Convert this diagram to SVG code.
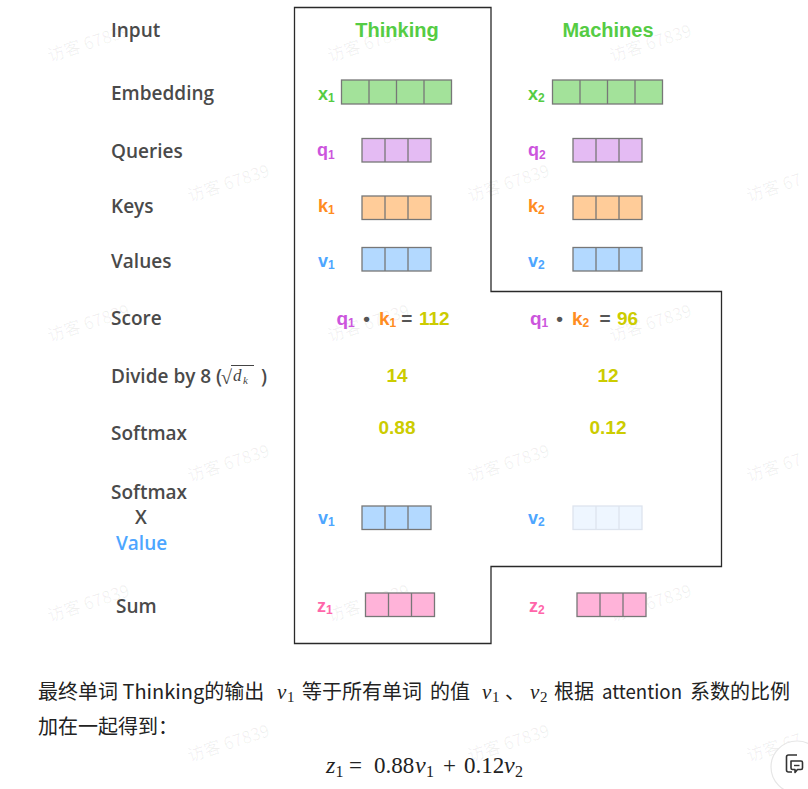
<svg xmlns="http://www.w3.org/2000/svg" width="808" height="789" viewBox="0 0 808 789">
<style>
.lbl{font-family:"Open Sans","Liberation Sans",sans-serif;font-size:19px;font-weight:600;fill:#4a4a4a}
.ttl{font-family:"Liberation Sans",Arial,sans-serif;font-size:20px;font-weight:bold;fill:#55cc44;text-anchor:middle}
.vl{font-family:"Liberation Sans",Arial,sans-serif;font-size:18px;font-weight:bold}
.sub{font-size:12px}
.num{font-family:"Liberation Sans",Arial,sans-serif;font-size:19px;font-weight:bold;fill:#cccc00}
.op{font-family:"Liberation Sans",Arial,sans-serif;font-size:19px;font-weight:bold;fill:#555;text-anchor:middle}
.box{stroke:#777;stroke-width:1.3}
.g{fill:#a3e29a}.p{fill:#e4bbf3}.o{fill:#ffcc99}.b{fill:#b3d9ff}.pk{fill:#ffb3d9}
.lb{fill:#eef6ff;stroke:#dde4ee}
.cg{fill:#55cc44}.cp{fill:#cc55dd}.co{fill:#ff8c22}.cb{fill:#4da6ff}.cz{fill:#ff66aa}
.cn{font-family:"Noto Sans CJK SC","Noto Sans",sans-serif;font-size:20px;fill:#222}
.m{font-family:"Liberation Serif","DejaVu Serif",serif;fill:#222}
.wm{font-family:"Noto Sans CJK SC","Noto Sans",sans-serif;font-size:17px;fill:#000;fill-opacity:0.06}
</style>
<defs>
<g id="v4"><rect x="0" y="0" width="110" height="24" class="box"/><path d="M27.5 0V24M55 0V24M82.5 0V24" class="box" fill="none"/></g>
<g id="v3"><rect x="0" y="0" width="69" height="23.5" class="box"/><path d="M23 0V23.5M46 0V23.5" class="box" fill="none"/></g>
<g id="v3l"><rect x="0" y="0" width="69" height="23.5" class="lb" stroke-width="1.3"/><path d="M23 0V23.5M46 0V23.5" stroke="#dde4ee" stroke-width="1.3" fill="none"/></g>
</defs>
<rect width="808" height="789" fill="#fff"/>

<g id="watermarks">
<text class="wm" x="50" y="62" transform="rotate(-18 50 62)">访客 67839</text>
<text class="wm" x="330" y="62" transform="rotate(-18 330 62)">访客 67839</text>
<text class="wm" x="612" y="62" transform="rotate(-18 612 62)">访客 67839</text>
<text class="wm" x="190" y="202" transform="rotate(-18 190 202)">访客 67839</text>
<text class="wm" x="470" y="202" transform="rotate(-18 470 202)">访客 67839</text>
<text class="wm" x="749" y="202" transform="rotate(-18 749 202)">访客 67</text>
<text class="wm" x="50" y="342" transform="rotate(-18 50 342)">访客 67839</text>
<text class="wm" x="330" y="342" transform="rotate(-18 330 342)">访客 67839</text>
<text class="wm" x="612" y="342" transform="rotate(-18 612 342)">访客 67839</text>
<text class="wm" x="190" y="482" transform="rotate(-18 190 482)">访客 67839</text>
<text class="wm" x="470" y="482" transform="rotate(-18 470 482)">访客 67839</text>
<text class="wm" x="749" y="482" transform="rotate(-18 749 482)">访客 67</text>
<text class="wm" x="50" y="622" transform="rotate(-18 50 622)">访客 67839</text>
<text class="wm" x="330" y="622" transform="rotate(-18 330 622)">访客 67839</text>
<text class="wm" x="612" y="622" transform="rotate(-18 612 622)">访客 67839</text>
<text class="wm" x="190" y="762" transform="rotate(-18 190 762)">访客 67839</text>
<text class="wm" x="470" y="762" transform="rotate(-18 470 762)">访客 67839</text>
<text class="wm" x="749" y="762" transform="rotate(-18 749 762)">访客 67</text>
</g>

<g id="connectors">
<path id="outline" d="M294.5 7.5H491V291.5H721.5V566.5H491V643.5H294.5Z" fill="none" stroke="#2a2a2a" stroke-width="1.3"/>
</g>

<g id="row-labels">
<text class="lbl" x="111" y="37">Input</text>
<text class="lbl" x="111" y="100">Embedding</text>
<text class="lbl" x="111" y="158">Queries</text>
<text class="lbl" x="111" y="213">Keys</text>
<text class="lbl" x="111" y="268">Values</text>
<text class="lbl" x="111" y="325">Score</text>
<g id="divide">
<text class="lbl" x="111" y="383">Divide by 8 (</text>
<text x="221" y="384" font-family="Liberation Serif,serif" font-size="20" fill="#444">√</text>
<line x1="231" y1="365.5" x2="254" y2="365.5" stroke="#444" stroke-width="1"/>
<text x="233" y="381" font-family="Liberation Serif,serif" font-style="italic" font-size="17" fill="#444">d</text>
<text x="243" y="384" font-family="Liberation Serif,serif" font-style="italic" font-size="11" fill="#444">k</text>
<text class="lbl" x="261" y="383">)</text>
</g>
<text class="lbl" x="111" y="440">Softmax</text>
<text class="lbl" x="111" y="499">Softmax</text>
<text class="lbl" x="135" y="524">X</text>
<text class="lbl" x="116" y="550" style="fill:#4da6ff">Value</text>
<text class="lbl" x="116" y="613">Sum</text>
</g>

<g id="title-thinking"><text class="ttl" x="397" y="37">Thinking</text></g>
<g id="title-machines"><text class="ttl" x="608" y="37">Machines</text></g>

<g id="x1"><text class="vl cg" x="318" y="100">x<tspan class="sub" dy="2">1</tspan></text><use href="#v4" class="g" x="341.5" y="80"/></g>
<g id="x2"><text class="vl cg" x="528" y="100">x<tspan class="sub" dy="2">2</tspan></text><use href="#v4" class="g" x="552.5" y="80"/></g>
<g id="q1"><text class="vl cp" x="317" y="156">q<tspan class="sub" dy="3">1</tspan></text><use href="#v3" class="p" x="362" y="138.5"/></g>
<g id="q2"><text class="vl cp" x="528" y="156">q<tspan class="sub" dy="3">2</tspan></text><use href="#v3" class="p" x="573" y="138.5"/></g>
<g id="k1"><text class="vl co" x="318" y="212">k<tspan class="sub" dy="2">1</tspan></text><use href="#v3" class="o" x="362" y="196"/></g>
<g id="k2"><text class="vl co" x="528" y="212">k<tspan class="sub" dy="2">2</tspan></text><use href="#v3" class="o" x="573" y="196"/></g>
<g id="v1"><text class="vl cb" x="318" y="267">v<tspan class="sub" dy="2">1</tspan></text><use href="#v3" class="b" x="362" y="247.5"/></g>
<g id="v2"><text class="vl cb" x="528" y="267">v<tspan class="sub" dy="2">2</tspan></text><use href="#v3" class="b" x="573" y="247.5"/></g>

<g id="score1">
<text class="vl cp" x="336.5" y="325" style="font-size:19px">q<tspan class="sub" dy="2">1</tspan></text>
<text class="op" x="366.5" y="325">•</text>
<text class="vl co" x="379" y="325" style="font-size:19px">k<tspan class="sub" dy="2">1</tspan></text>
<text class="op" x="406.7" y="325">=</text>
<text class="num" x="419" y="325">112</text>
</g>
<g id="score2">
<text class="vl cp" x="530" y="325" style="font-size:19px">q<tspan class="sub" dy="2">1</tspan></text>
<text class="op" x="559.5" y="325">•</text>
<text class="vl co" x="572" y="325" style="font-size:19px">k<tspan class="sub" dy="2">2</tspan></text>
<text class="op" x="605" y="325">=</text>
<text class="num" x="617" y="325">96</text>
</g>
<g id="div1"><text class="num" x="397" y="382" text-anchor="middle">14</text></g>
<g id="div2"><text class="num" x="608" y="382" text-anchor="middle">12</text></g>
<g id="sm1"><text class="num" x="397" y="434" text-anchor="middle">0.88</text></g>
<g id="sm2"><text class="num" x="608" y="434" text-anchor="middle">0.12</text></g>

<g id="sv1"><text class="vl cb" x="318" y="524">v<tspan class="sub" dy="2">1</tspan></text><use href="#v3" class="b" x="362" y="506"/></g>
<g id="sv2"><text class="vl cb" x="528" y="524">v<tspan class="sub" dy="2">2</tspan></text><use href="#v3l" x="573" y="506"/></g>
<g id="z1"><text class="vl cz" x="317" y="612">z<tspan class="sub" dy="2">1</tspan></text><use href="#v3" class="pk" x="365.5" y="593"/></g>
<g id="z2"><text class="vl cz" x="529" y="612">z<tspan class="sub" dy="2">2</tspan></text><use href="#v3" class="pk" x="577" y="593"/></g>

<g id="caption">
<text class="cn" x="38" y="699">最终单词 Thinking的输出</text>
<text class="m" x="277" y="699" font-size="21" font-style="italic">v</text><text class="m" x="287" y="702" font-size="15">1</text>
<text class="cn" x="302" y="699">等于所有单词</text>
<text class="cn" x="430" y="699">的值</text>
<text class="m" x="482" y="699" font-size="21" font-style="italic">v</text><text class="m" x="492" y="702" font-size="15">1</text>
<text class="cn" x="505" y="699">、</text>
<text class="m" x="530" y="699" font-size="21" font-style="italic">v</text><text class="m" x="540" y="702" font-size="15">2</text>
<text class="cn" x="554" y="699">根据</text>
<text class="cn" x="602" y="699" textLength="80" lengthAdjust="spacingAndGlyphs">attention</text>
<text class="cn" x="690" y="699">系数的比例</text>
<text class="cn" x="38" y="734">加在一起得到：</text>
</g>

<g id="formula">
<text class="m" x="326" y="773" font-size="24" font-style="italic">z</text>
<text class="m" x="335.5" y="777" font-size="16">1</text>
<text class="m" x="349" y="773" font-size="23">=</text>
<text class="m" x="374" y="773" font-size="23">0.88</text>
<text class="m" x="415" y="773" font-size="24" font-style="italic">v</text>
<text class="m" x="426" y="777" font-size="16">1</text>
<text class="m" x="443" y="773" font-size="23">+</text>
<text class="m" x="464" y="773" font-size="23">0.12</text>
<text class="m" x="504" y="773" font-size="24" font-style="italic">v</text>
<text class="m" x="515" y="777" font-size="16">2</text>
</g>

<g id="fab">
<circle cx="797" cy="767" r="26" fill="#fff" stroke="#e6e6e6" stroke-width="1.2"/>
<path d="M797 755H788.5Q786.5 755 786.5 757V770Q786.5 772 788.5 772H792" fill="none" stroke="#333" stroke-width="1.6"/>
<path d="M791 761H801Q802.5 761 802.5 762.5V768Q802.5 769.5 801 769.5H797.5L795 772.5V769.5H792.5Q791 769.5 791 768Z" fill="#fff" stroke="#333" stroke-width="1.6" stroke-linejoin="round"/>
<line x1="794" y1="765.5" x2="799.5" y2="765.5" stroke="#333" stroke-width="1.4"/>
</g>
</svg>
